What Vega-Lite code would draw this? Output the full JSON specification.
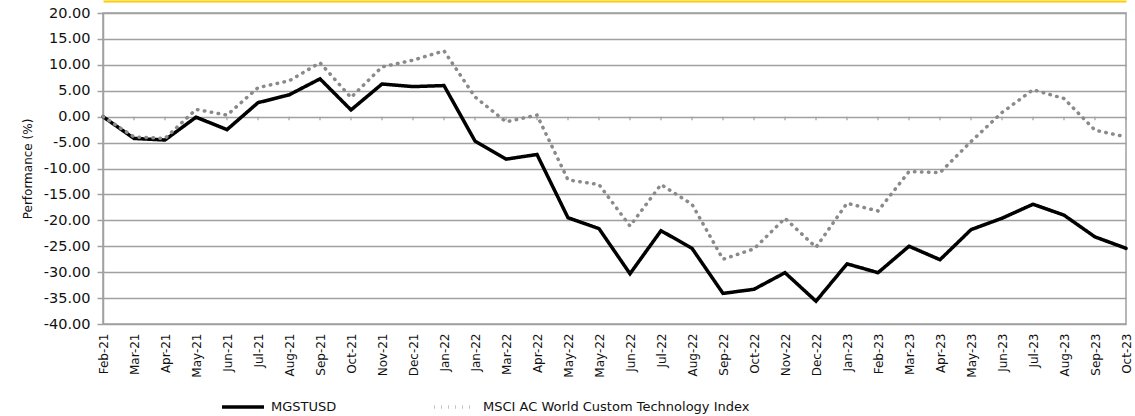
{
  "$schema": "https://vega.github.io/schema/vega-lite/v6.json",
  "autosize": {"type": "none"},
  "padding": {"left": 103, "top": 13, "right": 9, "bottom": 92},
  "width": 1023,
  "height": 311,
  "background": "#ffffff",
  "config": {
    "font": "DejaVu Sans",
    "view": {"stroke": "#a0a0a0", "strokeWidth": 1.5},
    "axisY": {"labelOverlap": false, "grid": true}
  },
  "data": {"values": [
    {"month": "Feb-21", "series": "MGSTUSD", "value": 0},
    {"month": "Mar-21", "series": "MGSTUSD", "value": -4.2},
    {"month": "Apr-21", "series": "MGSTUSD", "value": -4.5},
    {"month": "May-21", "series": "MGSTUSD", "value": -0.1},
    {"month": "Jun-21", "series": "MGSTUSD", "value": -2.5},
    {"month": "Jul-21", "series": "MGSTUSD", "value": 2.7},
    {"month": "Aug-21", "series": "MGSTUSD", "value": 4.2},
    {"month": "Sep-21", "series": "MGSTUSD", "value": 7.3},
    {"month": "Oct-21", "series": "MGSTUSD", "value": 1.3},
    {"month": "Nov-21", "series": "MGSTUSD", "value": 6.3},
    {"month": "Dec-21", "series": "MGSTUSD", "value": 5.8},
    {"month": "Jan-22", "series": "MGSTUSD", "value": 6.0},
    {"month": "Jan-22 ", "series": "MGSTUSD", "value": -4.7},
    {"month": "Mar-22", "series": "MGSTUSD", "value": -8.2},
    {"month": "Apr-22", "series": "MGSTUSD", "value": -7.3},
    {"month": "May-22", "series": "MGSTUSD", "value": -19.5},
    {"month": "May-22 ", "series": "MGSTUSD", "value": -21.6},
    {"month": "Jun-22", "series": "MGSTUSD", "value": -30.3},
    {"month": "Jul-22", "series": "MGSTUSD", "value": -22.0},
    {"month": "Aug-22", "series": "MGSTUSD", "value": -25.4},
    {"month": "Sep-22", "series": "MGSTUSD", "value": -34.1},
    {"month": "Oct-22", "series": "MGSTUSD", "value": -33.3},
    {"month": "Nov-22", "series": "MGSTUSD", "value": -30.1},
    {"month": "Dec-22", "series": "MGSTUSD", "value": -35.6},
    {"month": "Jan-23", "series": "MGSTUSD", "value": -28.4},
    {"month": "Feb-23", "series": "MGSTUSD", "value": -30.1},
    {"month": "Mar-23", "series": "MGSTUSD", "value": -25.0},
    {"month": "Apr-23", "series": "MGSTUSD", "value": -27.6},
    {"month": "May-23", "series": "MGSTUSD", "value": -21.8},
    {"month": "Jun-23", "series": "MGSTUSD", "value": -19.6},
    {"month": "Jul-23", "series": "MGSTUSD", "value": -16.9},
    {"month": "Aug-23", "series": "MGSTUSD", "value": -19.0},
    {"month": "Sep-23", "series": "MGSTUSD", "value": -23.2},
    {"month": "Oct-23", "series": "MGSTUSD", "value": -25.4},
    {"month": "Feb-21", "series": "MSCI AC World Custom Technology Index", "value": 0},
    {"month": "Mar-21", "series": "MSCI AC World Custom Technology Index", "value": -3.9},
    {"month": "Apr-21", "series": "MSCI AC World Custom Technology Index", "value": -4.2},
    {"month": "May-21", "series": "MSCI AC World Custom Technology Index", "value": 1.4},
    {"month": "Jun-21", "series": "MSCI AC World Custom Technology Index", "value": 0.3},
    {"month": "Jul-21", "series": "MSCI AC World Custom Technology Index", "value": 5.6},
    {"month": "Aug-21", "series": "MSCI AC World Custom Technology Index", "value": 6.9},
    {"month": "Sep-21", "series": "MSCI AC World Custom Technology Index", "value": 10.4},
    {"month": "Oct-21", "series": "MSCI AC World Custom Technology Index", "value": 3.7},
    {"month": "Nov-21", "series": "MSCI AC World Custom Technology Index", "value": 9.6},
    {"month": "Dec-21", "series": "MSCI AC World Custom Technology Index", "value": 10.9},
    {"month": "Jan-22", "series": "MSCI AC World Custom Technology Index", "value": 12.7},
    {"month": "Jan-22 ", "series": "MSCI AC World Custom Technology Index", "value": 3.8},
    {"month": "Mar-22", "series": "MSCI AC World Custom Technology Index", "value": -1.0},
    {"month": "Apr-22", "series": "MSCI AC World Custom Technology Index", "value": 0.3},
    {"month": "May-22", "series": "MSCI AC World Custom Technology Index", "value": -12.2},
    {"month": "May-22 ", "series": "MSCI AC World Custom Technology Index", "value": -13.1},
    {"month": "Jun-22", "series": "MSCI AC World Custom Technology Index", "value": -21.1},
    {"month": "Jul-22", "series": "MSCI AC World Custom Technology Index", "value": -13.1},
    {"month": "Aug-22", "series": "MSCI AC World Custom Technology Index", "value": -16.9},
    {"month": "Sep-22", "series": "MSCI AC World Custom Technology Index", "value": -27.5},
    {"month": "Oct-22", "series": "MSCI AC World Custom Technology Index", "value": -25.5},
    {"month": "Nov-22", "series": "MSCI AC World Custom Technology Index", "value": -19.6},
    {"month": "Dec-22", "series": "MSCI AC World Custom Technology Index", "value": -25.2},
    {"month": "Jan-23", "series": "MSCI AC World Custom Technology Index", "value": -16.7},
    {"month": "Feb-23", "series": "MSCI AC World Custom Technology Index", "value": -18.2},
    {"month": "Mar-23", "series": "MSCI AC World Custom Technology Index", "value": -10.6},
    {"month": "Apr-23", "series": "MSCI AC World Custom Technology Index", "value": -10.8},
    {"month": "May-23", "series": "MSCI AC World Custom Technology Index", "value": -4.8},
    {"month": "Jun-23", "series": "MSCI AC World Custom Technology Index", "value": 0.8},
    {"month": "Jul-23", "series": "MSCI AC World Custom Technology Index", "value": 5.2},
    {"month": "Aug-23", "series": "MSCI AC World Custom Technology Index", "value": 3.5},
    {"month": "Sep-23", "series": "MSCI AC World Custom Technology Index", "value": -2.6},
    {"month": "Oct-23", "series": "MSCI AC World Custom Technology Index", "value": -3.9}
  ]},
  "resolve": {"axis": {"x": "independent"}},
  "layer": [
    {
      "transform": [{"filter": "datum.series === 'MGSTUSD'"}],
      "mark": {"type": "rule", "color": "#a0a0a0", "strokeWidth": 1.2},
      "encoding": {
        "x": {"field": "month", "type": "ordinal", "sort": null,
              "scale": {"type": "point", "padding": 0},
              "axis": {"orient": "top", "labels": false, "ticks": false, "grid": false,
                       "domain": true, "domainColor": "#FFCC00", "domainWidth": 2,
                       "offset": 12, "title": null}},
        "y": {"datum": 0, "type": "quantitative",
              "scale": {"domain": [-40, 20], "nice": false, "zero": false},
              "axis": {"title": "Performance (%)", "values": [-40,-35,-30,-25,-20,-15,-10,-5,0,5,10,15,20],
                       "labelExpr": "(datum.value < 0 ? '-' : '') + format(abs(datum.value), '.2f')",
                       "labelFontSize": 14.5, "labelColor": "#111111",
                       "labelOverlap": false, "grid": true,
                       "labelPadding": 7, "tickSize": 6, "tickColor": "#a0a0a0", "tickWidth": 1.5,
                       "domainColor": "#a0a0a0", "domainWidth": 1.5,
                       "gridColor": "#a0a0a0", "gridWidth": 1.5, "gridOpacity": 1,
                       "titleFontSize": 12, "titleFontWeight": "normal", "titleColor": "#111111",
                       "titlePadding": 9}},
        "y2": {"datum": -0.7}
      }
    },
    {
      "mark": {"type": "line", "strokeWidth": 3.5, "strokeCap": "round", "strokeJoin": "miter"},
      "encoding": {
        "x": {"field": "month", "type": "ordinal", "sort": null,
              "scale": {"type": "point", "padding": 0},
              "axis": {"orient": "bottom", "title": null, "labelAngle": -90,
                       "labelExpr": "trim(datum.value)", "ticks": false, "tickSize": 0,
                       "domain": false, "grid": false, "labelPadding": 9,
                       "labelFontSize": 12, "labelColor": "#111111", "labelFont": "DejaVu Sans"}},
        "y": {"field": "value", "type": "quantitative",
              "scale": {"domain": [-40, 20], "nice": false, "zero": false},
              "axis": {"title": "Performance (%)", "values": [-40,-35,-30,-25,-20,-15,-10,-5,0,5,10,15,20],
                       "labelExpr": "(datum.value < 0 ? '-' : '') + format(abs(datum.value), '.2f')",
                       "labelFontSize": 14.5, "labelColor": "#111111",
                       "labelOverlap": false, "grid": true,
                       "labelPadding": 7, "tickSize": 6, "tickColor": "#a0a0a0", "tickWidth": 1.5,
                       "domainColor": "#a0a0a0", "domainWidth": 1.5,
                       "gridColor": "#a0a0a0", "gridWidth": 1.5, "gridOpacity": 1,
                       "titleFontSize": 12, "titleFontWeight": "normal", "titleColor": "#111111",
                       "titlePadding": 9}},
        "color": {"field": "series", "type": "nominal",
                  "scale": {"domain": ["MGSTUSD", "MSCI AC World Custom Technology Index"], "range": ["#000000", "#8a8a8a"]},
                  "legend": {"orient": "none", "direction": "horizontal", "title": null,
                             "legendX": 117, "legendY": 371, "padding": 0,
                             "symbolType": "stroke", "symbolSize": 1764, "symbolStrokeWidth": 3.5,
                             "labelFontSize": 13, "labelColor": "#111111", "labelOffset": 5,
                             "labelLimit": 0, "columnPadding": 90,
                             "encode": {"symbols": {"update": {"strokeCap": {"value": "butt"}}}}}},
        "strokeDash": {"field": "series", "type": "nominal",
                       "scale": {"domain": ["MGSTUSD", "MSCI AC World Custom Technology Index"], "range": [[1, 0], [0.5, 6.5]]},
                       "legend": null}
      }
    }
  ]
}
